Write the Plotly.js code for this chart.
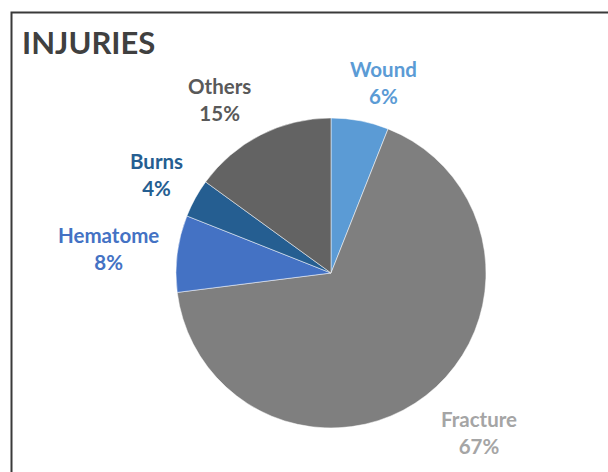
<!DOCTYPE html>
<html>
<head>
<meta charset="utf-8">
<script src="https://cdn.plot.ly/plotly-3.0.1.min.js"></script>
<style>html,body{margin:0;padding:0;background:#fff;}#chart{width:608px;height:472px;}</style>
</head>
<body>
<div id="chart"></div>
<script>
// Data
const categories = ['Wound', 'Fracture', 'Hematome', 'Burns', 'Others'];
const shares = [6, 67, 8, 4, 15];
const sliceColors = ['#5B9BD5', '#7F7F7F', '#4472C4', '#255E91', '#636363'];
const labelColors = ['#5B9BD5', '#A5A5A5', '#4472C4', '#255E91', '#595959'];

// label anchor points in pixels (layout only)
const labelPx = [[383, 83], [479, 432], [108, 248], [156, 174], [219, 99]];

const W = 608, H = 472;
const cx = 331, cy = 273, r = 155;

const trace = {
  type: 'pie',
  labels: categories,
  values: shares,
  sort: false,
  direction: 'clockwise',
  rotation: 0,
  textinfo: 'none',
  hoverinfo: 'label+percent',
  marker: {colors: sliceColors, line: {color: '#ffffff', width: 0.5}},
  domain: {x: [(cx - r) / W, (cx + r) / W], y: [(H - cy - r) / H, (H - cy + r) / H]},
  showlegend: false
};

const annotations = categories.map((c, i) => ({
  xref: 'paper', yref: 'paper',
  x: labelPx[i][0] / W, y: 1 - labelPx[i][1] / H,
  xanchor: 'center', yanchor: 'middle',
  showarrow: false,
  text: '<b>' + c + '<br>' + shares[i] + '%</b>',
  align: 'center',
  font: {family: 'Lato, "Open Sans", sans-serif', size: 20.5, color: labelColors[i]}
}));

const layout = {
  width: W, height: H,
  margin: {l: 0, r: 0, t: 0, b: 0},
  paper_bgcolor: '#ffffff',
  title: {
    text: '<b>INJURIES</b>',
    x: 22 / W, xanchor: 'left',
    y: 1 - 43 / H, yanchor: 'middle',
    font: {family: 'Lato, "Open Sans", sans-serif', size: 31, color: '#404040'}
  },
  annotations: annotations,
  shapes: [{
    type: 'rect', xref: 'paper', yref: 'paper',
    x0: 11.5 / W, x1: 1.05, y0: -0.05, y1: 1 - 12.5 / H,
    line: {color: '#3a3a3a', width: 2}
  }]
};

Plotly.newPlot('chart', [trace], layout, {displayModeBar: false, staticPlot: true});
</script>
</body>
</html>
